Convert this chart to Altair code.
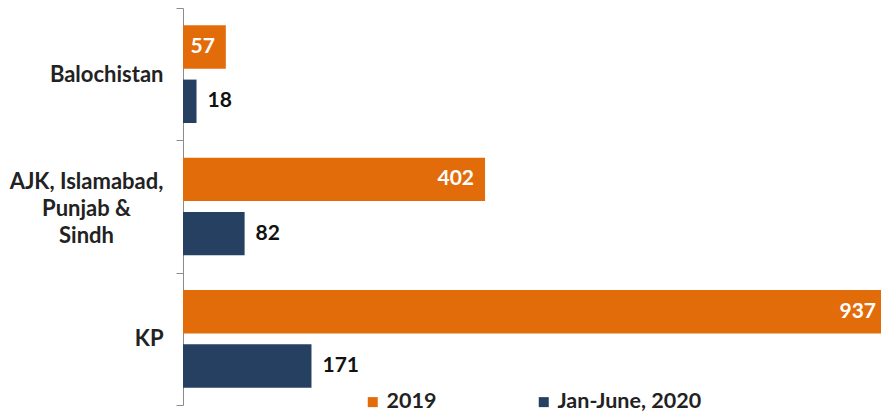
import altair as alt
import pandas as pd

category_lines = [["Balochistan"], ["AJK, Islamabad,", "Punjab &", "Sindh"], ["KP"]]
categories = [" ".join(l) for l in category_lines]
series = ["2019", "Jan-June, 2020"]
values_2019 = [57, 402, 937]
values_2020 = [18, 82, 171]
colors = ["#E36C0A", "#254061"]

rows = []
for c, a, b in zip(categories, values_2019, values_2020):
    rows.append({"category": c, "series": series[0], "value": a})
    rows.append({"category": c, "series": series[1], "value": b})
df = pd.DataFrame(rows)

# label expression for multi-line axis labels
parts = []
for c, lines in zip(categories, category_lines):
    if len(lines) > 1:
        arr = "[" + ", ".join("'" + l + "'" for l in lines) + "]"
        parts.append(f"datum.value == '{c}' ? {arr}")
label_expr = " : ".join(parts) + " : datum.label"
multi = [c for c, l in zip(categories, category_lines) if len(l) > 1][0]
test = f"datum.value == '{multi}'"

FONT = "Lato"
LINE_H = 27

y_axis = alt.Axis(
    title=None,
    labelExpr=label_expr,
    labelFont=FONT,
    labelFontWeight="bold",
    labelFontSize=22,
    labelColor="#222222",
    labelLineHeight=LINE_H,
    labelBaseline="middle",
    labelAlign={"condition": {"test": test, "value": "center"}, "value": "right"},
    labelPadding={"condition": {"test": test, "value": 90}, "value": 13},
    labelOffset={"condition": {"test": test, "value": -25}, "value": 0},
    labelLimit=300,
    tickBand="extent",
    tickSize=7,
    tickColor="#8c8c8c",
    domainColor="#8c8c8c",
    tickWidth=1,
    domainWidth=1,
)

base = alt.Chart(df).encode(
    y=alt.Y("category:N", sort=categories,
            scale=alt.Scale(paddingInner=0, paddingOuter=0), axis=y_axis),
    yOffset=alt.YOffset("series:N", sort=series,
                        scale=alt.Scale(paddingInner=0.2, paddingOuter=0.32)),
    x=alt.X("value:Q", scale=alt.Scale(domain=[0, 929]), axis=None),
)

bars = base.mark_bar().encode(
    color=alt.Color(
        "series:N",
        scale=alt.Scale(domain=series, range=colors),
        legend=alt.Legend(
            title=None,
            orient="none",
            legendX=179,
            legendY=383,
            direction="horizontal",
            symbolType="square",
            symbolSize=100,
            symbolStrokeWidth=0,
            labelFont=FONT,
            labelFontWeight="bold",
            labelFontSize=21.5,
            labelColor="#222222",
            labelOffset=3,
            columnPadding=96,
            padding=0,
        ),
    )
)

text_2019 = base.transform_filter(alt.datum.series == series[0]).mark_text(
    align="right", baseline="middle", dx=-11, font=FONT, fontWeight="bold",
    fontSize=21, color="white"
).encode(text="value:Q")

text_2020 = base.transform_filter(alt.datum.series == series[1]).mark_text(
    align="left", baseline="middle", dx=11, font=FONT, fontWeight="bold",
    fontSize=21, color="#111111"
).encode(text="value:Q")

chart = (
    alt.layer(bars, text_2019, text_2020)
    .properties(
        width=698,
        height=397,
        autosize=alt.AutoSizeParams(type="none"),
        padding={"left": 183, "top": 8, "right": 0, "bottom": 9},
        background="white",
    )
    .configure_view(stroke=None)
)

chart.save("out.html", embed_options={"renderer": "svg", "actions": False})
